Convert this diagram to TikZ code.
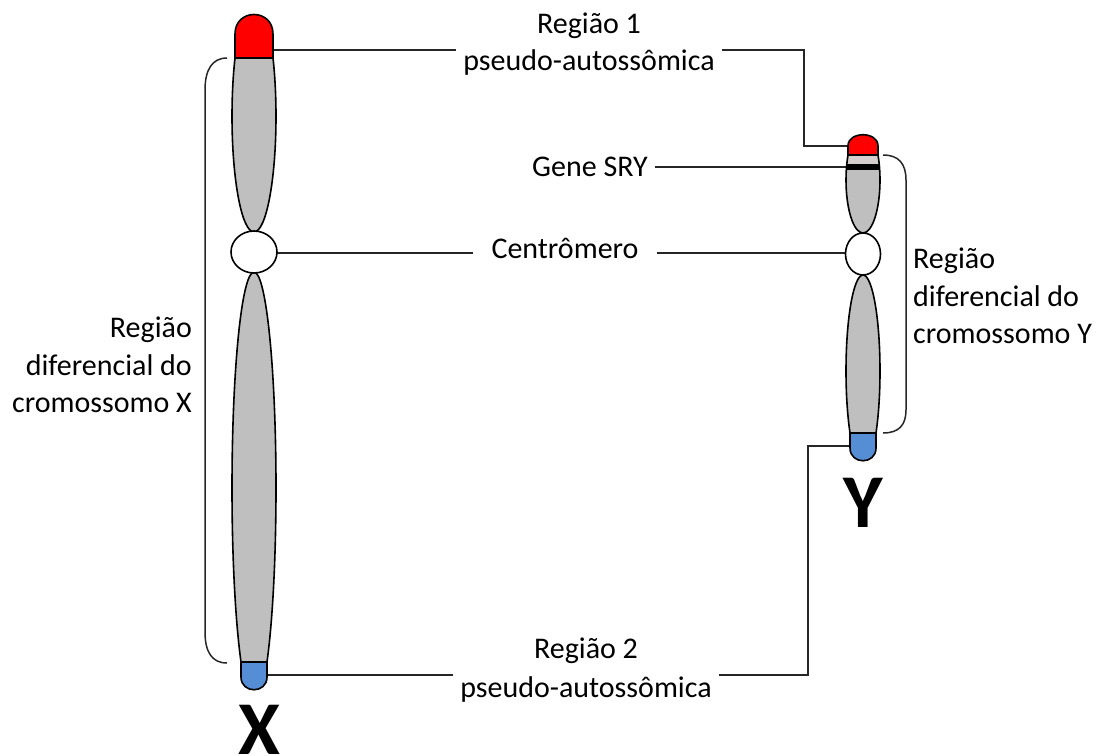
\documentclass[tikz,border=0pt]{standalone}
\usepackage{fontspec}
\setmainfont{Carlito}
\usepackage{tikz}
\usetikzlibrary{positioning,calc}
\definecolor{chrRed}{HTML}{FF0000}
\definecolor{chrGray}{HTML}{BFBFBF}
\definecolor{chrBlue}{HTML}{558ED5}
\definecolor{chrBand}{HTML}{D6CECE}

\begin{document}
\begin{tikzpicture}[
    x=1pt, y=-1pt,
    outl/.style    = {draw=black, line width=1.6pt},
    armfill/.style = {outl, fill=chrGray},
    capred/.style  = {outl, fill=chrRed},
    capblue/.style = {outl, fill=chrBlue},
    cenfill/.style = {outl, fill=white},
    conn/.style    = {black!85, line width=1.5pt},
    brace/.style   = {black!85, line width=1.5pt},
    lbl/.style     = {font=\fontsize{30}{37.5}\selectfont, inner sep=7pt},
    chrname/.style = {font=\fontsize{76}{76}\selectfont\bfseries, inner sep=0pt}
  ]
  \useasboundingbox (0,0) rectangle (1103,755);

  % connector ends on the two chromosomes
  \coordinate (xTop) at (273,50);
  \coordinate (xCen) at (277,253);
  \coordinate (xBot) at (267,675);
  \coordinate (yTop) at (848,146);
  \coordinate (ySry) at (848,167);
  \coordinate (yCen) at (845.5,253);
  \coordinate (yBot) at (850,446);
  \coordinate (yJoinT) at (804,146);
  \coordinate (yJoinB) at (808,446);

  % labels
  \node[lbl, anchor=base] (reg1a) at (589,33) {Região 1};
  \node[lbl, anchor=base] (reg1b) at (589,70) {pseudo-autossômica};
  \node[lbl, anchor=base] (sry)   at (590,176) {Gene SRY};
  \node[lbl, anchor=base, inner xsep=18pt] (cen) at (565,258) {Centrômero};
  \node[lbl, anchor=base] (reg2a) at (586,658) {Região 2};
  \node[lbl, anchor=base] (reg2b) at (586,697) {pseudo-autossômica};
  \node[lbl, align=right, anchor=east] (difX) at (199,365)
    {Região\\diferencial do\\cromossomo X};
  \node[lbl, align=left, anchor=west] (difY) at (906,296)
    {Região\\diferencial do\\cromossomo Y};
  \node[chrname, anchor=base] (nameX) at (259,754) {X};
  \node[chrname, anchor=base] (nameY) at (863,527) {Y};

  % connectors
  \draw[conn] (xTop) -- (xTop -| reg1b.west);
  \draw[conn] (xTop -| reg1b.east) -- (xTop -| yJoinT) |- (yTop);
  \draw[conn] (ySry -| sry.east) -- (ySry);
  \draw[conn] (xCen) -- (xCen -| cen.west);
  \draw[conn] (xCen -| cen.east) -- (yCen);
  \draw[conn] (xBot) -- (xBot -| reg2b.west);
  \draw[conn] (xBot -| reg2b.east) -- (xBot -| yJoinB) -- (yJoinB) -- (yBot);

  % brackets
  \draw[brace] (227,58) .. controls (212,58) and (205,70) .. (205,90)
    -- (205,632) .. controls (205,652) and (212,663) .. (227,663);
  \draw[brace] (883,155) .. controls (899,155) and (906,164) .. (906,180)
    -- (906,410) .. controls (906,425) and (899,433) .. (883,433);

  % chromosome X
  \begin{scope}
    \clip (200,58) rectangle (310,245);
    \path[armfill] (254,116.3) ellipse [x radius=22pt, y radius=115.7pt];
  \end{scope}
  \begin{scope}
    \clip (200,260) rectangle (310,662);
    \path[armfill] (254,487.8) ellipse [x radius=22pt, y radius=215.8pt];
  \end{scope}
  \path[capred] (235,58) -- (235,34) .. controls (235,8) and (273,8) .. (273,34)
    -- (273,58) -- cycle;
  \path[capblue] (241,662) -- (241,677) .. controls (241,694) and (267,694) .. (267,677)
    -- (267,662) -- cycle;
  \path[cenfill] (254,252) ellipse [x radius=23pt, y radius=21pt];

  % chromosome Y
  \begin{scope}
    \clip (830,155) rectangle (900,245);
    \fill[chrGray] (863,180) ellipse [x radius=17pt, y radius=53pt];
    \begin{scope}
      \clip (863,180) ellipse [x radius=17pt, y radius=53pt];
      \fill[chrBand] (830,155) rectangle (900,164);
      \fill[black] (830,164) rectangle (900,170);
    \end{scope}
    \draw[outl] (863,180) ellipse [x radius=17pt, y radius=53pt];
  \end{scope}
  \begin{scope}
    \clip (830,262) rectangle (900,433);
    \path[armfill] (863,371) ellipse [x radius=17pt, y radius=96pt];
  \end{scope}
  \path[capred] (848,155) -- (848,146) .. controls (848,131) and (878,131) .. (878,146)
    -- (878,155) -- cycle;
  \path[capblue] (850,433) -- (850,448) .. controls (850,465) and (876,465) .. (876,448)
    -- (876,433) -- cycle;
  \path[cenfill] (863,254) ellipse [x radius=17.5pt, y radius=21pt];
\end{tikzpicture}
\end{document}
